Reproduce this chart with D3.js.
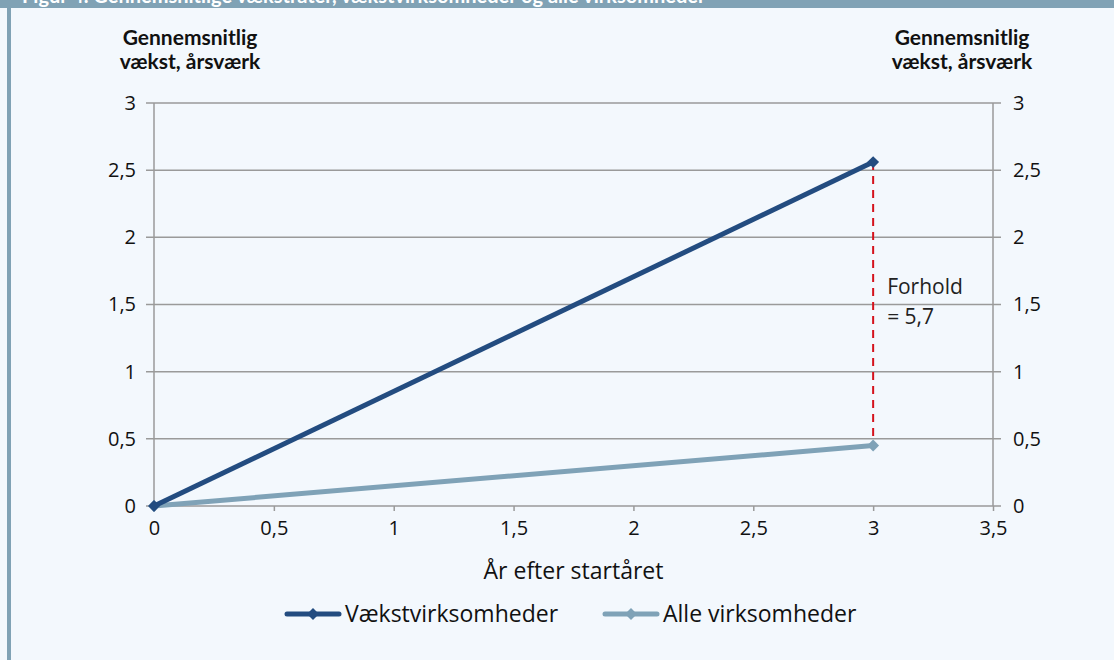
<!DOCTYPE html>
<html>
<head>
<meta charset="utf-8">
<script src="https://cdn.jsdelivr.net/npm/d3@7"></script>
<style>
  html, body { margin: 0; padding: 0; background: #f3f8fd; }
  svg { display: block; }
</style>
</head>
<body>
<div id="chart"></div>
<script>
const width = 1114;
const height = 660;

const years = [0, 3];
const vaekst = [0, 2.56];
const alle = [0, 0.45];
const seriesNames = ['Vækstvirksomheder', 'Alle virksomheder'];
const seriesColors = ['#234c80', '#7fa2b7'];
const yTicks = [0, 0.5, 1, 1.5, 2, 2.5, 3];
const xTicks = [0, 0.5, 1, 1.5, 2, 2.5, 3, 3.5];
const ratioLabel = ['Forhold', '= 5,7'];

const fmt = d => String(d).replace('.', ',');
const font = '"Open Sans", sans-serif';

const margin = {left: 154, right: 121, top: 103, bottom: 154};

const svg = d3.select('#chart')
    .append('svg')
    .attr('width', width)
    .attr('height', height);

// frame
svg.append('rect')
    .attr('x', 0).attr('y', 0)
    .attr('width', width).attr('height', height)
    .attr('fill', '#f3f8fd');
svg.append('rect')
    .attr('x', 0).attr('y', 0)
    .attr('width', width).attr('height', 8)
    .attr('fill', '#80a2b5');
svg.append('rect')
    .attr('x', 7).attr('y', 0)
    .attr('width', 4).attr('height', height)
    .attr('fill', '#80a2b5');
svg.append('text')
    .attr('x', 22).attr('y', 3)
    .attr('font-family', 'Lato, sans-serif')
    .attr('font-weight', 'bold')
    .attr('font-size', 20)
    .attr('fill', '#fff')
    .text('Figur 4. Gennemsnitlige vækstrater, vækstvirksomheder og alle virksomheder');

const x = d3.scaleLinear()
    .domain([0, 3.5])
    .range([margin.left, width - margin.right]);

const y = d3.scaleLinear()
    .domain([0, 3])
    .range([height - margin.bottom, margin.top]);

// gridlines
svg.append('g')
    .selectAll('line')
    .data(yTicks)
    .enter()
    .append('line')
    .attr('x1', x(0) - 8)
    .attr('x2', x(3.5) + 8)
    .attr('y1', d => y(d))
    .attr('y2', d => y(d))
    .attr('stroke', '#9a9a9a')
    .attr('stroke-width', 1.5);

// axes lines
[0, 3.5].forEach(v => {
    svg.append('line')
        .attr('x1', x(v)).attr('x2', x(v))
        .attr('y1', y(3)).attr('y2', y(0))
        .attr('stroke', '#9a9a9a')
        .attr('stroke-width', 1.5);
});

// x ticks
const xAxis = svg.append('g')
    .attr('transform', `translate(0, ${y(0)})`)
    .call(d3.axisBottom(x).tickValues(xTicks).tickFormat(fmt).tickSize(5).tickPadding(10));
xAxis.select('.domain').remove();
xAxis.selectAll('line').attr('stroke', '#9a9a9a').attr('stroke-width', 1.5);
xAxis.selectAll('text')
    .attr('font-family', font)
    .attr('font-size', 20)
    .attr('fill', '#111');

// y labels
const yLeft = svg.append('g')
    .attr('transform', `translate(${x(0)}, 0)`)
    .call(d3.axisLeft(y).tickValues(yTicks).tickFormat(fmt).tickSize(0).tickPadding(18));
yLeft.select('.domain').remove();
yLeft.selectAll('text')
    .attr('font-family', font)
    .attr('font-size', 20)
    .attr('fill', '#111');

const yRight = svg.append('g')
    .attr('transform', `translate(${x(3.5)}, 0)`)
    .call(d3.axisRight(y).tickValues(yTicks).tickFormat(fmt).tickSize(0).tickPadding(20));
yRight.select('.domain').remove();
yRight.selectAll('text')
    .attr('font-family', font)
    .attr('font-size', 20)
    .attr('fill', '#111');

// axis headers
[190, 962].forEach(cx => {
    const t = svg.append('text')
        .attr('text-anchor', 'middle')
        .attr('font-family', 'Lato, sans-serif')
        .attr('font-weight', 'bold')
        .attr('font-size', 21)
        .attr('fill', '#111');
    t.append('tspan').attr('x', cx).attr('y', 45).text('Gennemsnitlig');
    t.append('tspan').attr('x', cx).attr('y', 69).text('vækst, årsværk');
});

svg.append('text')
    .attr('x', (x(0) + x(3.5)) / 2)
    .attr('y', 579)
    .attr('text-anchor', 'middle')
    .attr('font-family', font)
    .attr('font-size', 23)
    .attr('fill', '#111')
    .text('År efter startåret');

// ratio marker
svg.append('line')
    .attr('x1', x(3)).attr('x2', x(3))
    .attr('y1', y(vaekst[1])).attr('y2', y(alle[1]))
    .attr('stroke', '#d4121c')
    .attr('stroke-width', 2)
    .attr('stroke-dasharray', '8,6');

const rt = svg.append('text')
    .attr('font-family', font)
    .attr('font-size', 21)
    .attr('fill', '#222');
rt.append('tspan').attr('x', x(3) + 14).attr('y', 294).text(ratioLabel[0]);
rt.append('tspan').attr('x', x(3) + 14).attr('y', 324).text(ratioLabel[1]);

// series
const line = d3.line()
    .x(d => x(d[0]))
    .y(d => y(d[1]));

const diamond = d3.symbol().type(d3.symbolDiamond2).size(90);

const series = [vaekst, alle].map((vals, i) => ({
    name: seriesNames[i],
    color: seriesColors[i],
    points: years.map((yr, j) => [yr, vals[j]])
}));

series.slice().reverse().forEach(s => {
    svg.append('path')
        .attr('d', line(s.points))
        .attr('fill', 'none')
        .attr('stroke', s.color)
        .attr('stroke-width', 5);
    svg.append('g')
        .selectAll('path')
        .data(s.points)
        .enter()
        .append('path')
        .attr('transform', d => `translate(${x(d[0])}, ${y(d[1])})`)
        .attr('d', diamond)
        .attr('fill', s.color);
});

// legend
const legendX = [285, 603];
series.forEach((s, i) => {
    const g = svg.append('g')
        .attr('transform', `translate(${legendX[i]}, 614)`);
    g.append('line')
        .attr('x1', 2).attr('x2', 54)
        .attr('y1', 0).attr('y2', 0)
        .attr('stroke', s.color)
        .attr('stroke-width', 5)
        .attr('stroke-linecap', 'round');
    g.append('path')
        .attr('transform', 'translate(28, 0)')
        .attr('d', diamond)
        .attr('fill', s.color);
    g.append('text')
        .attr('x', 60)
        .attr('y', 8)
        .attr('font-family', font)
        .attr('font-size', 23)
        .attr('fill', '#111')
        .text(s.name);
});
</script>
</body>
</html>
